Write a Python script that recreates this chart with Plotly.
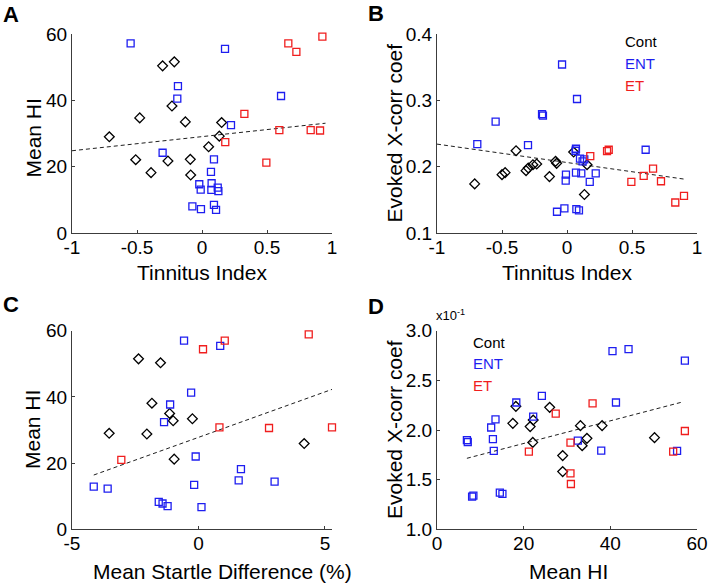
import plotly.graph_objects as go

# ---------------- DATA ----------------
# Panel A: Tinnitus Index vs Mean HI
contA_TI = [-0.713, -0.479, -0.510, -0.392, -0.303, -0.213, -0.231, -0.262, -0.128, -0.090, -0.087, 0.051, 0.151, 0.133]
contA_HI = [29.0, 34.7, 22.1, 18.2, 50.4, 51.6, 38.3, 21.7, 33.5, 22.2, 17.5, 26.0, 33.3, 29.2]
entA_TI = [-0.549, 0.177, -0.185, -0.190, 0.608, 0.223, -0.303, 0.092, 0.069, -0.021, -0.010, 0.074, 0.072, 0.121, 0.126, -0.074, -0.008, 0.092, 0.108]
entA_HI = [57.2, 55.5, 44.3, 40.5, 41.3, 32.5, 24.2, 22.2, 18.4, 14.7, 13.1, 15.0, 13.0, 13.7, 12.6, 8.0, 7.2, 8.5, 7.0]
etA_TI = [0.926, 0.664, 0.726, 0.326, 0.595, 0.836, 0.908, 0.179, 0.495]
etA_HI = [59.2, 57.2, 54.6, 35.9, 31.0, 31.0, 30.9, 27.4, 21.2]
fitA_x = [-1.0, 0.95]
fitA_y = [24.8, 33.1]

# Panel B: Tinnitus Index vs Evoked X-corr coef
contB_TI = [-0.710, -0.392, -0.500, -0.476, -0.315, -0.298, -0.262, -0.233, -0.135, -0.088, -0.080, 0.051, 0.154, 0.134]
contB_XC = [0.174, 0.224, 0.188, 0.191, 0.194, 0.198, 0.203, 0.204, 0.185, 0.208, 0.205, 0.222, 0.203, 0.158]
entB_TI = [-0.436, -0.038, 0.077, -0.192, -0.185, -0.549, -0.690, -0.300, 0.069, 0.066, 0.605, 0.100, 0.120, 0.133,
           -0.008, -0.010, 0.069, 0.110, 0.221, 0.175, -0.077, -0.020, 0.072, 0.092]
entB_XC = [0.4005, 0.354, 0.302, 0.279, 0.277, 0.268, 0.234, 0.2326, 0.227, 0.224, 0.2255, 0.212, 0.208, 0.211,
           0.188, 0.179, 0.191, 0.190, 0.190, 0.177, 0.132, 0.137, 0.136, 0.134]
etB_TI = [0.179, 0.308, 0.321, 0.495, 0.590, 0.662, 0.723, 0.833, 0.900]
etB_XC = [0.216, 0.2235, 0.2255, 0.177, 0.186, 0.197, 0.178, 0.146, 0.156]
fitB_x = [-1.0, 0.91]
fitB_y = [0.234, 0.181]

# Panel C: Mean Startle Difference (%) vs Mean HI
contC_SD = [-3.53, -2.37, -1.50, -1.84, -2.04, -1.14, -1.00, -0.24, -0.96, 4.18]
contC_HI = [29.0, 51.5, 50.3, 38.1, 28.8, 35.0, 32.8, 33.4, 21.2, 25.9]
entC_SD = [-0.57, 0.86, -0.29, -1.12, -1.36, -0.11, 1.68, 1.59, 3.01, -0.17, -4.14, -3.59, -1.57, -1.42, -1.22, 0.12]
entC_HI = [57.0, 55.4, 41.3, 37.7, 32.4, 22.0, 18.2, 14.8, 14.4, 13.4, 12.9, 12.3, 8.3, 7.8, 7.0, 6.7]
etC_SD = [-3.05, 0.18, 1.04, 4.36, 0.83, 2.79, 5.28]
etC_HI = [21.0, 54.4, 57.0, 58.9, 30.8, 30.6, 30.8]
fitC_x = [-4.14, 5.29]
fitC_y = [16.4, 42.3]

# Panel D: Mean HI vs Evoked X-corr coef
contD_HI = [17.5, 18.2, 21.5, 22.2, 22.1, 26.0, 29.0, 29.0, 33.1, 33.5, 34.6, 38.1, 50.2]
contD_XC = [0.2067, 0.2238, 0.2034, 0.2100, 0.1875, 0.2228, 0.1742, 0.1581, 0.2044, 0.1842, 0.1916, 0.2044, 0.1923]
entD_HI = [6.9, 7.1, 8.1, 8.4, 12.5, 13.5, 12.9, 13.1, 14.5, 15.1, 18.3, 22.2, 24.2, 32.5, 37.9, 41.3, 40.5, 44.2, 55.4, 57.2]
entD_XC = [0.1899, 0.1879, 0.1329, 0.1339, 0.2025, 0.2107, 0.1909, 0.1789, 0.1369, 0.1356, 0.2277, 0.2135, 0.2343,
           0.1893, 0.1792, 0.2277, 0.2795, 0.2815, 0.1789, 0.2698]
etD_HI = [21.2, 27.4, 30.8, 30.8, 30.9, 35.9, 54.5, 57.2]
etD_XC = [0.1782, 0.2165, 0.1872, 0.1564, 0.1456, 0.2268, 0.1782, 0.1990]
fitD_x = [6.9, 56.9]
fitD_y = [0.1715, 0.2285]

# Tick labels
ti_ticks = [-1, -0.5, 0, 0.5, 1]
ti_labels = ["-1", "-0.5", "0", "0.5", "1"]
hi_ticks = [0, 20, 40, 60]
hi_labels = ["0", "20", "40", "60"]
xcB_ticks = [0.1, 0.2, 0.3, 0.4]
xcB_labels = ["0.1", "0.2", "0.3", "0.4"]
sd_ticks = [-5, 0, 5]
sd_labels = ["-5", "0", "5"]
xcD_ticks = [0.10, 0.15, 0.20, 0.25, 0.30]
xcD_labels = ["1.0", "1.5", "2.0", "2.5", "3.0"]

# ---------------- STYLE ----------------
W, H = 709, 585
FONT = "Arial, Liberation Sans, sans-serif"
BLUE = "rgb(30,30,240)"
RED = "rgb(240,30,30)"
BLACK = "rgb(0,0,0)"


def px(x, y):
    return x / W, 1 - y / H


fig = go.Figure()


def add_panel(n, cont, ent, et, fit):
    xa = "x" if n == 1 else f"x{n}"
    ya = "y" if n == 1 else f"y{n}"
    fig.add_trace(go.Scatter(x=fit[0], y=fit[1], mode="lines", xaxis=xa, yaxis=ya,
                             line=dict(color="rgb(30,30,30)", width=1, dash="4px,3px"),
                             showlegend=False, hoverinfo="skip"))
    fig.add_trace(go.Scatter(x=cont[0], y=cont[1], mode="markers", xaxis=xa, yaxis=ya, cliponaxis=False,
                             marker=dict(symbol="diamond-open", size=7.5, color=BLACK,
                                         line=dict(width=1.3, color=BLACK)),
                             showlegend=False))
    fig.add_trace(go.Scatter(x=ent[0], y=ent[1], mode="markers", xaxis=xa, yaxis=ya, cliponaxis=False,
                             marker=dict(symbol="square-open", size=7, color=BLUE,
                                         line=dict(width=1.3, color=BLUE)),
                             showlegend=False))
    fig.add_trace(go.Scatter(x=et[0], y=et[1], mode="markers", xaxis=xa, yaxis=ya, cliponaxis=False,
                             marker=dict(symbol="square-open", size=7, color=RED,
                                         line=dict(width=1.3, color=RED)),
                             showlegend=False))


add_panel(1, (contA_TI, contA_HI), (entA_TI, entA_HI), (etA_TI, etA_HI), (fitA_x, fitA_y))
add_panel(2, (contB_TI, contB_XC), (entB_TI, entB_XC), (etB_TI, etB_XC), (fitB_x, fitB_y))
add_panel(3, (contC_SD, contC_HI), (entC_SD, entC_HI), (etC_SD, etC_HI), (fitC_x, fitC_y))
add_panel(4, (contD_HI, contD_XC), (entD_HI, entD_XC), (etD_HI, etD_XC), (fitD_x, fitD_y))

axis_common = dict(showline=True, linecolor="rgb(60,60,60)", linewidth=1, ticks="inside",
                   ticklen=3, tickwidth=1, tickcolor="rgb(60,60,60)", showgrid=False,
                   zeroline=False, mirror=False, tickfont=dict(family=FONT, size=19, color="black"),
                   fixedrange=True, automargin=False)
xcommon = dict(axis_common, ticklabelstandoff=-3)
ycommon = dict(axis_common, ticklabelstandoff=0)

colL = [72 / W, 332 / W]
colR = [437 / W, 697 / W]
rowT = [1 - 233 / H, 1 - 34 / H]
rowB = [1 - 529.3 / H, 1 - 330.7 / H]

fig.update_layout(
    width=W, height=H,
    margin=dict(l=0, r=0, t=0, b=0),
    paper_bgcolor="white", plot_bgcolor="white",
    font=dict(family=FONT, color="black"),
    xaxis=dict(domain=colL, range=[-1, 1], tickvals=ti_ticks, ticktext=ti_labels, anchor="y", **xcommon),
    yaxis=dict(domain=rowT, range=[0, 60], tickvals=hi_ticks, ticktext=hi_labels, anchor="x", **ycommon),
    xaxis2=dict(domain=colR, range=[-1, 1], tickvals=ti_ticks, ticktext=ti_labels, anchor="y2", **xcommon),
    yaxis2=dict(domain=rowT, range=[0.1, 0.4], tickvals=xcB_ticks, ticktext=xcB_labels, anchor="x2", **ycommon),
    xaxis3=dict(domain=colL, range=[-5, 5.28], tickvals=sd_ticks, ticktext=sd_labels, anchor="y3", **xcommon),
    yaxis3=dict(domain=rowB, range=[0, 60], tickvals=hi_ticks, ticktext=hi_labels, anchor="x3", **ycommon),
    xaxis4=dict(domain=colR, range=[0, 60], tickvals=hi_ticks, ticktext=hi_labels, anchor="y4", **xcommon),
    yaxis4=dict(domain=rowB, range=[0.1, 0.3], tickvals=xcD_ticks, ticktext=xcD_labels, anchor="x4", **ycommon),
)

annotations = []


def ann(text, x, y, size, color="black", xanchor="center", yanchor="middle", angle=0, bold=False):
    ax, ay = px(x, y)
    if bold:
        text = f"<b>{text}</b>"
    annotations.append(dict(text=text, x=ax, y=ay, xref="paper", yref="paper", showarrow=False,
                            xanchor=xanchor, yanchor=yanchor, textangle=angle,
                            font=dict(family=FONT, size=size, color=color)))


# panel letters
ann("A", 1, 14.5, 22, xanchor="left", bold=True)
ann("B", 366, 13.5, 22, xanchor="left", bold=True)
ann("C", 1, 304, 22, xanchor="left", bold=True)
ann("D", 366, 306, 22, xanchor="left", bold=True)

# axis titles
ann("Tinnitus Index", 202, 272, 21)
ann("Tinnitus Index", 567, 272, 21)
ann("Mean Startle Difference (%)", 222, 571, 21)
ann("Mean HI", 568, 571, 21)
ann("Mean HI", 32.5, 138, 21, angle=-90)
ann("Evoked X-corr coef", 394, 133.5, 21, angle=-90)
ann("Mean HI", 32, 430, 21, angle=-90)
ann("Evoked X-corr coef", 394, 430, 21, angle=-90)

# group labels
ann("Cont", 622.5, 41.5, 15, BLACK, xanchor="left")
ann("ENT", 622.5, 63, 15, BLUE, xanchor="left")
ann("ET", 622.5, 85, 15, RED, xanchor="left")
ann("Cont", 470.5, 342, 15, BLACK, xanchor="left")
ann("ENT", 470.5, 363, 15, BLUE, xanchor="left")
ann("ET", 470.5, 385.5, 15, RED, xanchor="left")

# exponent label
ann("x10<sup>-1</sup>", 434, 315, 13, xanchor="left")

fig.update_layout(annotations=annotations)

fig.write_html("out.html", config={"displayModeBar": False},
               post_script="document.body.style.margin='0px';document.body.style.overflow='hidden';")
